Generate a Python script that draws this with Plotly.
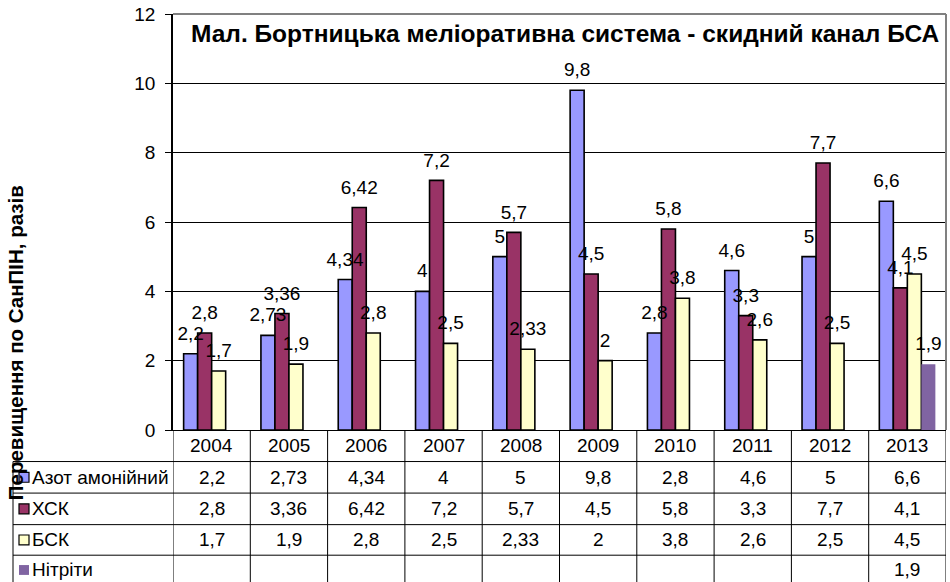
import plotly.graph_objects as go

years = ["2004", "2005", "2006", "2007", "2008", "2009", "2010", "2011", "2012", "2013"]
series_names = ["Азот амонійний", "ХСК", "БСК", "Нітріти"]
azot = [2.2, 2.73, 4.34, 4, 5, 9.8, 2.8, 4.6, 5, 6.6]
xsk = [2.8, 3.36, 6.42, 7.2, 5.7, 4.5, 5.8, 3.3, 7.7, 4.1]
bsk = [1.7, 1.9, 2.8, 2.5, 2.33, 2, 3.8, 2.6, 2.5, 4.5]
nitrity = [None, None, None, None, None, None, None, None, None, 1.9]
title_text = "Мал. Бортницька меліоративна система - скидний канал БСА"
ytitle_text = "Перевищення по СанПІН, разів"

colors = ["#9999FF", "#993366", "#FFFFCC", "#8064A2"]
line_w = [1.6, 1.6, 1.6, 0]
FONT = "Liberation Sans, Arial, sans-serif"
FS = 19

W, H = 950, 582
L, R, T, B = 173, 4, 8, 152
PW, PH = W - L - R, H - T - B
Y_MAX = 12
LABEL_PAD_PX = 7  # extra gap between bar top and its value label


def fmt(v):
    if v is None:
        return ""
    return ("%g" % v).replace(".", ",")


def px(xp):
    return (xp - L) / PW


def py(yp):
    return (H - B - yp) / PH


all_series = [azot, xsk, bsk, nitrity]
n = len(years)
xidx = list(range(n))
label_base = LABEL_PAD_PX * Y_MAX / PH

fig = go.Figure()
# real bars
for g, (name, vals, c, lw) in enumerate(zip(series_names, all_series, colors, line_w)):
    fig.add_trace(go.Bar(
        x=xidx, y=vals, name=name, offsetgroup=str(g),
        marker=dict(color=c, line=dict(color="black", width=lw)),
        hoverinfo="skip",
    ))
# transparent twin bars carrying the value labels (drawn on top, lifted by a small pad)
for g, (name, vals) in enumerate(zip(series_names, all_series)):
    fig.add_trace(go.Bar(
        x=xidx, y=vals, base=label_base, name=name + " labels", offsetgroup=str(g),
        marker=dict(color="rgba(0,0,0,0)", line=dict(width=0)),
        text=[fmt(v) for v in vals], textposition="outside",
        constraintext="none", cliponaxis=False,
        textfont=dict(family=FONT, size=FS, color="black"),
        hoverinfo="skip",
    ))

shapes = []
annotations = []

# plot area border (gray top/right)
shapes.append(dict(type="line", xref="paper", yref="paper", x0=0, x1=1, y0=1, y1=1,
                   line=dict(color="#808080", width=2), layer="above"))
shapes.append(dict(type="line", xref="paper", yref="paper", x0=1, x1=1, y0=0, y1=1,
                   line=dict(color="#808080", width=2), layer="above"))

# table geometry (pixel rows)
row_edges = [430, 462, 494, 526, 557, 600]
row_centers = [446, 478, 510, 541.5, 572]
left_px = 13
line_style = dict(color="black", width=1)

for ye in row_edges[1:-1]:
    shapes.append(dict(type="line", xref="paper", yref="paper",
                       x0=px(left_px), x1=1, y0=py(ye), y1=py(ye), line=line_style))
for k in range(n + 1):
    shapes.append(dict(type="line", xref="x", yref="paper",
                       x0=k - 0.5, x1=k - 0.5, y0=0, y1=py(row_edges[-1]), line=line_style))
shapes.append(dict(type="line", xref="paper", yref="paper",
                   x0=px(left_px), x1=px(left_px), y0=py(row_edges[1]), y1=py(row_edges[-1]),
                   line=line_style))

cell_font = dict(family=FONT, size=FS, color="black")

# year header row
for k, yr in enumerate(years):
    annotations.append(dict(xref="x", yref="paper", x=k, y=py(row_centers[0]), text=yr,
                            showarrow=False, xanchor="center", yanchor="middle", font=cell_font))

# series rows
for r, (name, vals, c, lw) in enumerate(zip(series_names, all_series, colors, line_w), start=1):
    yc = row_centers[r]
    for k in range(n):
        annotations.append(dict(xref="x", yref="paper", x=k, y=py(yc), text=fmt(vals[k]),
                                showarrow=False, xanchor="center", yanchor="middle", font=cell_font))
    shapes.append(dict(type="rect", xref="paper", yref="paper",
                       x0=px(19), x1=px(29), y0=py(yc - 5), y1=py(yc + 5),
                       fillcolor=c, line=dict(color="black", width=1.2 if lw else 0)))
    annotations.append(dict(xref="paper", yref="paper", x=px(30), y=py(yc), text=name,
                            showarrow=False, xanchor="left", yanchor="middle", font=cell_font))

# title
annotations.append(dict(xref="paper", yref="paper", x=px(189), y=py(28), text="<b>" + title_text + "</b>",
                        showarrow=False, xanchor="left", yanchor="middle",
                        font=dict(family=FONT, size=24.5, color="black")))
# y-axis title
annotations.append(dict(xref="paper", yref="paper", x=px(15), y=py(342), text="<b>" + ytitle_text + "</b>",
                        showarrow=False, textangle=-90, xanchor="center", yanchor="middle",
                        font=dict(family=FONT, size=20.5, color="black")))

fig.update_layout(
    width=W, height=H,
    margin=dict(l=L, r=R, t=T, b=B),
    paper_bgcolor="white", plot_bgcolor="white",
    barmode="group", bargap=0.275, bargroupgap=0,
    showlegend=False,
    shapes=shapes, annotations=annotations,
    font=dict(family=FONT, size=FS, color="black"),
    xaxis=dict(showticklabels=False, showgrid=False, zeroline=False,
               showline=True, linecolor="black", linewidth=1, ticks="",
               range=[-0.5, n - 0.5]),
    yaxis=dict(range=[0, Y_MAX], dtick=2, showgrid=True, gridcolor="black", gridwidth=1,
               zeroline=False, showline=True, linecolor="black", linewidth=1.5,
               ticks="outside", ticklen=6, tickcolor="black", ticklabeloverflow="allow",
               tickfont=dict(family=FONT, size=FS, color="black"), ticklabelstandoff=6),
)

fig.write_html("out.html", config={"displayModeBar": False},
               post_script="document.body.style.margin='0';")
